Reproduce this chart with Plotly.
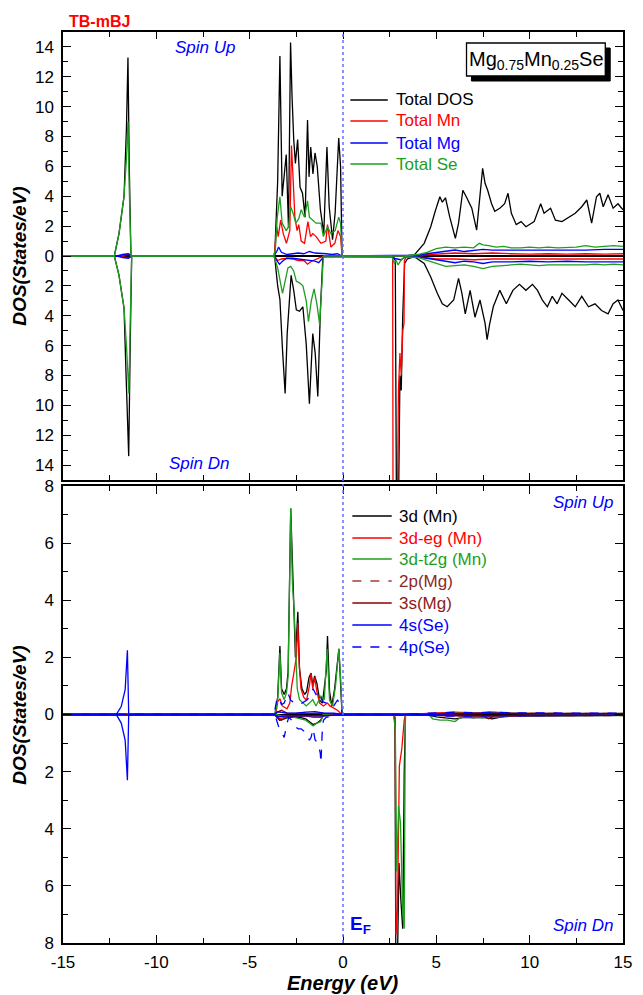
import plotly.graph_objects as go

# ---------------- DATA (energy eV, DOS states/eV) ----------------
# Top panel: total DOS, spin up / spin down (down given as magnitudes)
TOT_UP = [(-15,0),(-12.25,0),(-12.0,1.5),(-11.73,4.0),(-11.6,8.6),(-11.52,13.3),(-11.45,6.0),(-11.36,0),
          (-3.7,0),(-3.65,0.3),(-3.5,5.0),(-3.38,13.4),(-3.26,4.0),(-3.12,6.0),(-3.04,6.8),(-2.92,1.9),(-2.81,14.3),
          (-2.73,10.7),(-2.64,7.8),(-2.55,6.2),(-2.43,7.8),(-2.30,4.6),(-2.17,4.2),(-2.03,2.6),(-1.90,9.1),(-1.82,5.3),
          (-1.73,7.3),(-1.61,5.5),(-1.50,6.9),(-1.38,6.0),(-1.21,3.1),(-1.03,1.5),(-0.86,7.3),(-0.74,3.3),(-0.56,1.1),
          (-0.42,2.9),(-0.23,7.9),(-0.13,6.0),(-0.05,0),
          (3.3,0),(3.82,0.07),(4.35,0.85),(4.70,1.96),(4.96,3.08),(5.19,3.97),(5.32,3.6),(5.49,3.9),(5.72,2.6),(6.02,1.18),
          (6.19,2.2),(6.42,4.4),(6.63,3.9),(6.90,3.2),(7.16,1.74),(7.34,3.97),(7.48,5.87),(7.61,4.87),(7.75,4.4),(7.96,3.5),
          (8.13,3.0),(8.40,3.2),(8.66,3.5),(8.84,4.2),(9.02,2.86),(9.28,2.1),(9.54,2.3),(9.80,1.96),(10.24,2.3),(10.59,3.5),
          (10.77,2.86),(11.12,3.2),(11.38,2.4),(11.73,2.3),(12.09,2.6),(12.44,2.86),(12.79,3.3),(13.06,3.75),(13.32,2.2),
          (13.58,3.97),(13.76,4.2),(13.94,3.3),(14.2,4.1),(14.47,3.2),(14.73,3.5),(15,3.1)]
TOT_DN = [(-15,0),(-12.25,0),(-12.0,1.3),(-11.73,3.5),(-11.62,8.0),(-11.48,13.4),(-11.4,6.0),(-11.32,0),
          (-3.7,0),(-3.65,0.2),(-3.5,2.0),(-3.38,2.9),(-3.24,6.3),(-3.10,9.2),(-2.99,5.2),(-2.85,2.5),(-2.78,1.3),
          (-2.64,2.3),(-2.50,3.6),(-2.33,3.7),(-2.15,3.4),(-1.97,5.9),(-1.80,9.9),(-1.62,5.2),(-1.49,6.5),(-1.35,9.4),
          (-1.21,3.6),(-1.08,0.1),(-1.0,0.05),(2.7,0.05),(2.8,0.3),(2.86,16),(2.98,16),(3.05,8),(3.12,9),(3.2,4),
          (3.3,0.5),(3.45,0.2),(3.82,0.05),(4.35,0.5),(4.70,1.4),(5.05,2.5),(5.32,3.2),(5.58,3.4),(5.93,2.95),(6.19,1.5),
          (6.37,2.5),(6.55,3.87),(6.81,2.3),(7.07,4.1),(7.34,2.95),(7.61,4.5),(7.72,5.6),(7.85,4.6),(8.05,3.4),(8.40,2.3),
          (8.75,3.2),(9.10,2.3),(9.45,1.9),(9.80,2.3),(10.15,1.9),(10.42,2.3),(10.68,2.95),(10.95,3.4),(11.21,2.7),
          (11.47,3.2),(11.73,2.5),(12.09,2.95),(12.44,3.4),(12.79,2.7),(13.15,3.4),(13.50,3.2),(13.85,3.65),(14.2,3.87),
          (14.47,3.2),(14.73,2.95),(15,3.65)]
MN_UP = [(-15,0),(-12.0,0),(-11.5,0.12),(-11.3,0),(-3.68,0),(-3.55,1.96),(-3.47,1.3),(-3.34,2.4),(-3.2,1.5),
         (-3.03,0.85),(-2.85,1.7),(-2.76,7.4),(-2.67,5.1),(-2.58,2.6),(-2.46,1.7),(-2.37,2.1),(-2.24,1.0),(-2.06,0.85),
         (-1.88,2.3),(-1.74,1.3),(-1.62,1.5),(-1.44,1.3),(-1.18,0.85),(-0.92,1.0),(-0.83,2.1),(-0.65,0.6),(-0.44,0.85),
         (-0.27,1.7),(-0.13,1.3),(-0.05,0),(3.4,0),(4.0,0.05),(5.0,0.15),(6.0,0.2),(7.0,0.15),(8.0,0.2),(9.0,0.15),
         (10.0,0.12),(11.0,0.15),(12.0,0.12),(13.0,0.15),(14.0,0.12),(15,0.15)]
MN_DN = [(-15,0),(-12.0,0),(-11.5,0.12),(-11.3,0),(-3.68,0),(-3.5,0.3),(-3.3,0.2),(-3.0,0.15),(-2.7,0.2),(-2.4,0.3),
         (-2.1,0.3),(-1.9,0.55),(-1.7,0.35),(-1.5,0.25),(-1.3,0.2),(-1.1,0.1),(-1.0,0),(2.66,0.05),(2.68,16),(2.92,16),
         (2.97,9),(3.05,6.5),(3.12,8),(3.2,5),(3.27,4.5),(3.29,0.3),(3.4,0.05),(4.0,0.05),(5,0.2),(6,0.2),(7,0.25),
         (8,0.2),(9,0.2),(10,0.18),(11,0.2),(12,0.18),(13,0.2),(14,0.18),(15,0.2)]
MG_UP = [(-15,0),(-12.1,0),(-11.8,0.1),(-11.5,0.15),(-11.3,0),(-3.7,0),(-3.55,0.3),(-3.45,0.6),(-3.3,0.25),(-3.0,0.1),
         (-2.7,0.15),(-2.4,0.2),(-2.1,0.15),(-1.8,0.3),(-1.5,0.2),(-1.2,0.2),(-0.9,0.15),(-0.6,0.1),(-0.3,0.15),
         (-0.05,0),(3.3,0),(4.0,0.05),(4.5,0.15),(5.0,0.25),(5.5,0.35),(6.0,0.4),(6.5,0.3),(7.0,0.35),(7.5,0.45),
         (8.0,0.4),(9,0.4),(10,0.35),(11,0.4),(12,0.4),(13,0.4),(14,0.45),(15,0.45)]
MG_DN = [(-15,0),(-12.1,0),(-11.8,0.1),(-11.5,0.15),(-11.3,0),(-3.7,0),(-3.55,0.3),(-3.4,0.55),(-3.2,0.3),(-3.0,0.15),
         (-2.7,0.15),(-2.4,0.2),(-2.1,0.2),(-1.8,0.3),(-1.5,0.35),(-1.3,0.45),(-1.1,0.15),(-1.0,0),(2.6,0),(2.7,0.15),
         (2.9,0.2),(3.1,0.25),(3.3,0.1),(3.5,0.02),(4.0,0.05),(4.5,0.15),(5.0,0.25),(5.5,0.35),(6.0,0.45),(6.5,0.35),
         (7.0,0.4),(7.5,0.5),(8.0,0.4),(9,0.4),(10,0.35),(11,0.4),(12,0.35),(13,0.4),(14,0.4),(15,0.4)]
SE_UP = [(-15,0),(-12.25,0),(-12.0,1.5),(-11.73,4.0),(-11.6,6.5),(-11.52,9.0),(-11.45,4.5),(-11.36,0),
         (-3.7,0),(-3.62,0.5),(-3.52,2.6),(-3.38,3.97),(-3.26,2.2),(-3.04,1.7),(-2.92,1.96),(-2.80,3.3),(-2.67,2.85),
         (-2.53,2.2),(-2.37,2.5),(-2.24,3.1),(-2.06,2.6),(-1.90,3.7),(-1.80,2.6),(-1.62,2.4),(-1.44,2.2),(-1.18,2.2),
         (-1.05,1.3),(-0.83,1.96),(-0.65,1.5),(-0.42,1.7),(-0.23,2.6),(-0.13,2.2),(-0.05,0),
         (3.3,0),(4.0,0.1),(4.5,0.25),(5.0,0.5),(5.5,0.6),(6.0,0.55),(6.5,0.6),(7.0,0.55),(7.3,0.85),(7.5,0.75),
         (7.8,0.7),(8.2,0.6),(8.6,0.65),(9.0,0.55),(9.5,0.55),(10,0.6),(10.5,0.55),(11,0.6),(11.5,0.55),(12,0.55),
         (12.5,0.6),(13,0.7),(13.5,0.6),(14,0.65),(14.5,0.7),(15,0.65)]
SE_DN = [(-15,0),(-12.25,0),(-12.0,1.3),(-11.73,3.5),(-11.6,6.0),(-11.47,9.2),(-11.4,4.5),(-11.32,0),
         (-3.7,0),(-3.5,0.8),(-3.24,2.5),(-3.1,1.6),(-2.95,0.8),(-2.8,0.7),(-2.64,1.0),(-2.5,1.7),(-2.33,1.8),
         (-2.15,2.0),(-1.97,3.0),(-1.85,4.4),(-1.7,3.0),(-1.55,2.2),(-1.4,3.2),(-1.25,4.6),(-1.1,1.5),(-1.05,0),
         (2.6,0),(2.75,0.5),(2.85,0.3),(2.95,0.6),(3.1,0.3),(3.3,0.05),(4.0,0.1),(4.5,0.3),(5.0,0.55),(5.5,0.7),
         (6.0,0.65),(6.5,0.6),(7.0,0.7),(7.5,0.85),(8.0,0.7),(8.5,0.65),(9,0.6),(9.5,0.55),(10,0.6),(10.5,0.65),
         (11,0.6),(11.5,0.6),(12,0.6),(12.5,0.65),(13,0.6),(13.5,0.55),(14,0.6),(14.5,0.55),(15,0.6)]

# Bottom panel: partial DOS
D3_UP = [(-15,0),(-3.65,0),(-3.50,0.6),(-3.38,2.4),(-3.29,0.9),(-3.15,0.7),(-3.03,0.9),(-2.94,1.5),(-2.80,7.2),
         (-2.71,4.9),(-2.62,3.5),(-2.55,2.0),(-2.42,3.6),(-2.33,1.6),(-2.2,0.9),(-2.05,0.7),(-1.95,0.8),(-1.82,1.3),
         (-1.71,1.45),(-1.62,1.0),(-1.52,1.35),(-1.40,1.1),(-1.25,0.5),(-1.1,0.4),(-0.9,1.5),(-0.83,2.75),(-0.72,0.8),
         (-0.6,0.3),(-0.45,0.9),(-0.22,2.3),(-0.12,1.2),(-0.05,0),(3.4,0),(5,0.05),(6,0.06),(7,0.05),(8,0.07),(9,0.05),
         (10,0.04),(11,0.05),(12,0.04),(13,0.04),(14,0.04),(15,0.04)]
D3_DN = [(-15,0),(-3.65,0),(-3.4,0.2),(-3.2,0.15),(-2.9,0.1),(-2.6,0.1),(-2.3,0.1),(-2.0,0.15),(-1.8,0.25),(-1.6,0.35),
         (-1.4,0.3),(-1.2,0.2),(-1.0,0),(2.7,0),(2.78,0.2),(2.83,8.5),(2.92,8.5),(3.0,5.2),(3.1,6.5),(3.2,7.5),(3.28,2.0),
         (3.35,0),(4.5,0),(5.0,0.08),(5.5,0.12),(6.0,0.15),(6.5,0.1),(7.0,0.12),(7.5,0.1),(8.0,0.15),(8.5,0.08),(9,0.06),
         (10,0.05),(11,0.04),(12,0.04),(13,0.03),(14,0.03),(15,0.03)]
EG_UP = [(-15,0),(-3.6,0),(-3.50,0.45),(-3.38,0.55),(-3.25,0.3),(-3.0,0.2),(-2.85,0.4),(-2.75,1.0),(-2.62,1.5),
         (-2.50,2.0),(-2.42,3.2),(-2.35,1.8),(-2.25,0.9),(-2.1,0.6),(-1.95,0.5),(-1.8,1.0),(-1.71,1.45),(-1.62,0.9),
         (-1.52,1.3),(-1.40,0.8),(-1.25,0.4),(-1.05,0.3),(-0.83,0.4),(-0.7,0.3),(-0.3,0.15),(-0.05,0),(3.4,0),(5,0.05),
         (6,0.08),(7,0.06),(8,0.08),(9,0.05),(10,0.04),(12,0.03),(15,0.03)]
EG_DN = [(-15,0),(-3.65,0),(-3.4,0.15),(-3.2,0.1),(-2.9,0.05),(-2.5,0.05),(-2.0,0.05),(-1.6,0.1),(-1.2,0.1),(-1.0,0),
         (2.7,0),(2.80,0.1),(2.84,7.7),(2.92,6.8),(3.02,1.8),(3.15,1.2),(3.28,0.2),(3.35,0),(4.5,0),(5.5,0.05),
         (6.5,0.05),(7.5,0.08),(8.5,0.05),(10,0.03),(12,0.03),(15,0.03)]
T2G_UP = [(-15,0),(-3.64,0),(-3.50,0.52),(-3.38,2.16),(-3.29,0.75),(-3.15,0.52),(-3.03,0.75),(-2.94,1.34),(-2.80,7.23),
          (-2.71,4.6),(-2.62,3.67),(-2.54,2.3),(-2.45,0.9),(-2.33,0.52),(-2.15,0.4),(-1.97,0.3),(-1.80,0.4),(-1.62,0.52),
          (-1.45,0.3),(-1.18,0.64),(-1.0,0.52),(-0.85,2.3),(-0.72,0.5),(-0.56,0.3),(-0.4,1.0),(-0.22,2.3),(-0.12,1.2),
          (-0.05,0),(3.4,0),(5,0.03),(6,0.05),(7,0.04),(8,0.05),(10,0.03),(12,0.03),(15,0.03)]
T2G_DN = [(-15,0),(-3.6,0),(-3.3,0.05),(-3.0,0.05),(-2.6,0.1),(-2.3,0.15),(-2.0,0.2),(-1.8,0.3),(-1.6,0.4),(-1.4,0.3),
          (-1.2,0.25),(-1.05,0),(2.7,0),(2.80,0.5),(2.88,5.5),(2.98,3.2),(3.08,3.8),(3.2,7.0),(3.28,7.5),(3.34,0),
          (4.6,0),(4.8,0.15),(5.2,0.2),(5.6,0.2),(6.0,0.25),(6.3,0.1),(6.8,0.08),(7.5,0.12),(8.0,0.1),(9,0.05),
          (10,0.05),(12,0.04),(15,0.04)]
MG2P_UP = [(-15,0),(-3.7,0),(-3.4,0.08),(-3.0,0.05),(-2.0,0.05),(-1.0,0.05),(0,0),(4,0),(6,0.04),(8,0.05),(10,0.04),
           (12,0.04),(15,0.04)]
MG2P_DN = [(-15,0),(-3.7,0),(-3.4,0.08),(-3.0,0.05),(-2.0,0.05),(-1.0,0.04),(0,0),(4,0),(6,0.05),(7.8,0.1),(10,0.04),
           (12,0.04),(15,0.04)]
MG3S_UP = [(-15,0),(-3.7,0),(-3.45,0.1),(-3.3,0.15),(-3.0,0.05),(-2.5,0.05),(-2.0,0.05),(-1.5,0.05),(-1.0,0.05),
           (-0.5,0.03),(0,0),(4,0),(7.5,0.03),(7.8,0.05),(8.2,0.03),(15,0.03)]
MG3S_DN = [(-15,0),(-3.7,0),(-3.45,0.15),(-3.3,0.2),(-3.0,0.08),(-2.0,0.05),(-1.0,0.05),(0,0),(4,0),(7.5,0.05),
           (7.8,0.15),(8.1,0.05),(15,0.03)]
SE4S_UP = [(-15,0),(-12.15,0),(-11.88,0.28),(-11.67,0.87),(-11.55,2.25),(-11.50,0.8),(-11.48,0),(-3.7,0),(-3.5,0.1),
           (-3.0,0.05),(-2.5,0.05),(-2.0,0.08),(-1.5,0.1),(-1.0,0.05),(-0.5,0.05),(0,0),(4,0),(6,0.03),(8,0.05),
           (10,0.03),(12,0.04),(15,0.03)]
SE4S_DN = [(-15,0),(-12.15,0),(-11.88,0.3),(-11.67,0.9),(-11.55,2.3),(-11.50,0.8),(-11.48,0),(-3.7,0),(-3.5,0.08),
           (-3.0,0.05),(-2.0,0.05),(-1.0,0.05),(0,0),(4,0),(6,0.04),(8,0.05),(10,0.04),(15,0.03)]
SE4P_UP = [(-15,0),(-3.7,0),(-3.55,0.5),(-3.45,0.6),(-3.3,0.35),(-3.15,0.4),(-2.95,0.75),(-2.8,0.5),(-2.6,0.4),
           (-2.4,0.35),(-2.2,0.4),(-1.95,0.5),(-1.8,0.6),(-1.6,0.9),(-1.45,0.7),(-1.3,0.8),(-1.1,0.45),(-0.9,0.4),
           (-0.7,0.25),(-0.5,0.3),(-0.3,0.5),(-0.15,0.4),(-0.03,0),(3.4,0),(4,0.03),(5,0.05),(6,0.08),(7,0.06),(8,0.08),
           (9,0.06),(10,0.05),(11,0.06),(12,0.05),(13,0.05),(14,0.05),(15,0.05)]
SE4P_DN = [(-15,0),(-3.65,0),(-3.46,0.4),(-3.29,0.65),(-3.15,0.8),(-3.0,0.3),(-2.9,0.1),(-2.75,0.2),(-2.6,0.4),
           (-2.4,0.5),(-2.24,0.5),(-1.97,0.65),(-1.8,0.9),(-1.71,0.8),(-1.6,0.5),(-1.5,0.88),(-1.35,1.0),(-1.22,1.34),
           (-1.18,1.7),(-1.12,0.7),(-1.05,0.2),(-0.9,0.1),(-0.5,0.05),(-0.1,0),(4,0),(5,0.05),(6,0.06),(7,0.05),
           (8,0.06),(9,0.04),(10,0.04),(12,0.03),(15,0.03)]

TOP_TICKS = list(range(-14, 15, 2))
BOT_TICKS = list(range(-8, 9, 2))
X_TICKS = [-15, -10, -5, 0, 5, 10, 15]

TOP_LEGEND = ["Total DOS", "Total Mn", "Total Mg", "Total Se"]
BOT_LEGEND = ["3d (Mn)", "3d-eg (Mn)", "3d-t2g (Mn)", "2p(Mg)", "3s(Mg)", "4s(Se)", "4p(Se)"]

# ---------------- STYLE ----------------
BLACK, RED, BLUE, GREEN = "#000000", "#ff0000", "#0000ff", "#1e9e1e"
MG2P_C, MG3S_C = "#a83c3c", "#8b0000"
FONT = "Arial, 'Liberation Sans', sans-serif"
W, H = 643, 995
L, R, T, B = 63, 632, 32, 943


def px(x):
    return (x - L) / (R - L)


def py(y):
    return (B - y) / (B - T)


fig = go.Figure()


def add(pts, color, panel, sign, dash="solid", width=1.3):
    fig.add_trace(go.Scatter(
        x=[p[0] for p in pts], y=[sign * p[1] for p in pts], mode="lines",
        line=dict(color=color, width=width, dash=dash),
        xaxis="x" if panel == 1 else "x2", yaxis="y" if panel == 1 else "y2",
        showlegend=False, hoverinfo="skip"))


top_series = [(TOT_UP, TOT_DN, BLACK), (MN_UP, MN_DN, RED), (MG_UP, MG_DN, BLUE), (SE_UP, SE_DN, GREEN)]
for up, dn, c in top_series:
    add(up, c, 1, 1)
    add(dn, c, 1, -1)

bot_series = [(D3_UP, D3_DN, BLACK, "solid"), (EG_UP, EG_DN, RED, "solid"), (T2G_UP, T2G_DN, GREEN, "solid"),
              (MG2P_UP, MG2P_DN, MG2P_C, "dash"), (MG3S_UP, MG3S_DN, MG3S_C, "solid"),
              (SE4S_UP, SE4S_DN, BLUE, "solid"), (SE4P_UP, SE4P_DN, BLUE, "dash")]
for up, dn, c, d in bot_series:
    add(up, c, 2, 1, d)
    add(dn, c, 2, -1, d)

axis_common = dict(showline=True, linecolor="black", linewidth=1.5, mirror="ticks", ticks="inside",
                   tickcolor="black", tickwidth=1.2, showgrid=False,
                   tickfont=dict(family=FONT, size=17, color="black"))

y_top_dom = [py(480), 1]
y_bot_dom = [0, py(486)]

fig.update_layout(
    width=W, height=H, margin=dict(l=L, r=W - R, t=T, b=H - B),
    paper_bgcolor="white", plot_bgcolor="white", showlegend=False,
    xaxis=dict(domain=[0, 1], range=[-15, 15], anchor="y", tickvals=X_TICKS, ticklen=7,
               showticklabels=False, zeroline=False,
               minor=dict(tickvals=[-12.5, -7.5, -2.5, 2.5, 7.5, 12.5], ticklen=5, ticks="inside",
                          tickcolor="black"), **axis_common),
    yaxis=dict(domain=y_top_dom, range=[-15, 15], anchor="x", tickvals=TOP_TICKS,
               ticktext=[str(abs(v)) for v in TOP_TICKS], ticklen=8, ticklabelstandoff=4,
               zeroline=True, zerolinecolor="black", zerolinewidth=1.5,
               minor=dict(tickvals=list(range(-15, 16, 2)), ticklen=5, ticks="inside", tickcolor="black"),
               **axis_common),
    xaxis2=dict(domain=[0, 1], range=[-15, 15], anchor="y2", tickvals=X_TICKS,
                ticktext=[str(v) for v in X_TICKS], ticklen=8, zeroline=False, ticklabelstandoff=3,
                minor=dict(tickvals=[-12.5, -7.5, -2.5, 2.5, 7.5, 12.5], ticklen=5, ticks="inside",
                           tickcolor="black"), **axis_common),
    yaxis2=dict(domain=y_bot_dom, range=[-8, 8], anchor="x2", tickvals=BOT_TICKS,
                ticktext=[str(abs(v)) for v in BOT_TICKS], ticklen=8, ticklabelstandoff=4,
                zeroline=True, zerolinecolor="black", zerolinewidth=1.5,
                minor=dict(tickvals=list(range(-7, 8, 2)), ticklen=5, ticks="inside", tickcolor="black"),
                **axis_common),
)

shapes = []
# Fermi level dotted line across both panels
shapes.append(dict(type="line", xref="x", yref="paper", x0=0, x1=0, y0=0, y1=1,
                   line=dict(color="#6a6aff", width=1.5, dash="dot")))
# compound label box with shadow
shapes.append(dict(type="rect", xref="paper", yref="paper", x0=px(478), x1=px(619), y0=py(81), y1=py(48),
                   fillcolor="black", line=dict(color="black", width=1)))
shapes.append(dict(type="rect", xref="paper", yref="paper", x0=px(473), x1=px(614), y0=py(76), y1=py(43),
                   fillcolor="white", line=dict(color="black", width=1.3)))

annotations = []
# top legend
top_cols = [BLACK, RED, BLUE, GREEN]
for i, (name, c) in enumerate(zip(TOP_LEGEND, top_cols)):
    yy = [100, 121, 143, 164][i]
    shapes.append(dict(type="line", xref="paper", yref="paper", x0=px(355), x1=px(393), y0=py(yy), y1=py(yy),
                       line=dict(color=c, width=1.3)))
    annotations.append(dict(xref="paper", yref="paper", x=px(399), y=py(yy), xanchor="left", yanchor="middle",
                            text=name, showarrow=False, font=dict(family=FONT, size=17, color=c)))
# bottom legend
bot_cols = [BLACK, RED, GREEN, MG2P_C, MG3S_C, BLUE, BLUE]
bot_text_cols = [BLACK, RED, GREEN, "#8b2a2a", "#8b1a1a", BLUE, BLUE]
bot_dash = ["solid", "solid", "solid", "dash", "solid", "solid", "dash"]
for i, name in enumerate(BOT_LEGEND):
    yy = [516, 538, 559, 581, 603, 625, 647][i]
    shapes.append(dict(type="line", xref="paper", yref="paper", x0=px(357), x1=px(397), y0=py(yy), y1=py(yy),
                       line=dict(color=bot_cols[i], width=1.3, dash=bot_dash[i])))
    annotations.append(dict(xref="paper", yref="paper", x=px(402), y=py(yy), xanchor="left", yanchor="middle",
                            text=name, showarrow=False, font=dict(family=FONT, size=17, color=bot_text_cols[i])))


def ann(x, y, text, size, color, xanchor="center", italic=False, bold=False, angle=0):
    t = text
    if bold:
        t = "<b>" + t + "</b>"
    if italic:
        t = "<i>" + t + "</i>"
    annotations.append(dict(xref="paper", yref="paper", x=px(x), y=py(y), xanchor=xanchor, yanchor="middle",
                            text=t, showarrow=False, textangle=angle,
                            font=dict(family=FONT, size=size, color=color)))


ann(100, 21, "TB-mBJ", 16, RED, bold=True)
ann(207, 48, "Spin Up", 17, BLUE, italic=True)
ann(201, 463, "Spin Dn", 17, BLUE, italic=True)
ann(591, 503, "Spin Up", 17, BLUE, italic=True)
ann(591, 925, "Spin Dn", 17, BLUE, italic=True)
ann(353, 925, "E<sub>F</sub>", 19, BLUE, xanchor="left", bold=True)
ann(544, 60, "Mg<sub>0.75</sub>Mn<sub>0.25</sub>Se", 20, "black")
ann(18, 256, "DOS(States/eV)", 19, "black", italic=True, bold=True, angle=-90)
ann(18, 715, "DOS(States/eV)", 19, "black", italic=True, bold=True, angle=-90)
ann(347, 983, "Energy (eV)", 20, "black", italic=True, bold=True)

fig.update_layout(shapes=shapes, annotations=annotations)
fig.write_html("out.html", config={"displayModeBar": False, "responsive": False},
               post_script="document.body.style.margin='0px';document.body.style.overflow='hidden';")
